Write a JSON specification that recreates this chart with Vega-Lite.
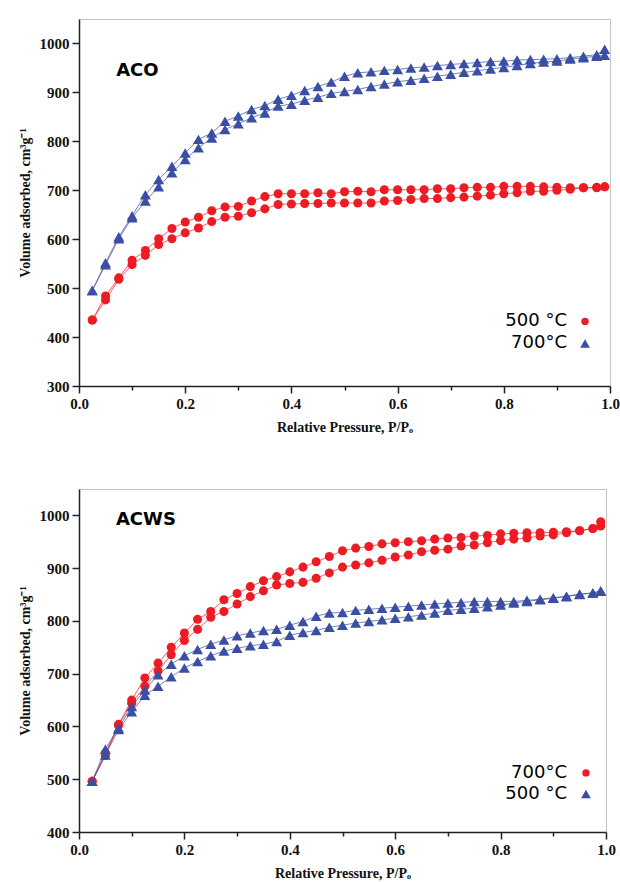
{
  "$schema": "https://vega.github.io/schema/vega-lite/v6.json",
  "background": "white",
  "padding": {"left": 17, "top": 18, "right": 8, "bottom": 4},
  "config": {
    "view": {"stroke": "#c4c4c4", "strokeWidth": 1},
    "axis": {
      "grid": false,
      "labelFont": "Liberation Serif", "labelFontWeight": "bold", "labelFontSize": 15, "labelColor": "#111",
      "titleFont": "Liberation Serif", "titleFontWeight": "bold", "titleFontSize": 14, "titleColor": "#111",
      "domainColor": "#222", "domainWidth": 1.5, "tickColor": "#222", "tickWidth": 1.5,
      "labelOverlap": false, "labelFlush": false, "labelBound": false
    },
    "concat": {"spacing": 53},
    "text": {"font": "DejaVu Sans", "fontSize": 18, "color": "#000"}
  },
  "resolve": {"scale": {"color": "independent", "shape": "independent"}},
  "datasets": {
    "aco": [
      {"temp":"500","branch":"ads","P":0.025,"V":435},{"temp":"500","branch":"ads","P":0.05,"V":476},{"temp":"500","branch":"ads","P":0.075,"V":518},{"temp":"500","branch":"ads","P":0.1,"V":548},{"temp":"500","branch":"ads","P":0.125,"V":567},{"temp":"500","branch":"ads","P":0.15,"V":589},{"temp":"500","branch":"ads","P":0.175,"V":601},{"temp":"500","branch":"ads","P":0.2,"V":613},{"temp":"500","branch":"ads","P":0.225,"V":623},{"temp":"500","branch":"ads","P":0.25,"V":636},{"temp":"500","branch":"ads","P":0.275,"V":645},{"temp":"500","branch":"ads","P":0.3,"V":647},{"temp":"500","branch":"ads","P":0.325,"V":654},{"temp":"500","branch":"ads","P":0.35,"V":662},{"temp":"500","branch":"ads","P":0.375,"V":671},{"temp":"500","branch":"ads","P":0.4,"V":672},{"temp":"500","branch":"ads","P":0.425,"V":673},{"temp":"500","branch":"ads","P":0.45,"V":673},{"temp":"500","branch":"ads","P":0.475,"V":674},{"temp":"500","branch":"ads","P":0.5,"V":674},{"temp":"500","branch":"ads","P":0.525,"V":674},{"temp":"500","branch":"ads","P":0.55,"V":674},{"temp":"500","branch":"ads","P":0.575,"V":678},{"temp":"500","branch":"ads","P":0.6,"V":679},{"temp":"500","branch":"ads","P":0.625,"V":681},{"temp":"500","branch":"ads","P":0.65,"V":683},{"temp":"500","branch":"ads","P":0.675,"V":683},{"temp":"500","branch":"ads","P":0.7,"V":685},{"temp":"500","branch":"ads","P":0.725,"V":686},{"temp":"500","branch":"ads","P":0.75,"V":688},{"temp":"500","branch":"ads","P":0.775,"V":690},{"temp":"500","branch":"ads","P":0.8,"V":693},{"temp":"500","branch":"ads","P":0.825,"V":695},{"temp":"500","branch":"ads","P":0.85,"V":698},{"temp":"500","branch":"ads","P":0.875,"V":698},{"temp":"500","branch":"ads","P":0.9,"V":700},{"temp":"500","branch":"ads","P":0.925,"V":702},{"temp":"500","branch":"ads","P":0.95,"V":705},{"temp":"500","branch":"ads","P":0.975,"V":705},{"temp":"500","branch":"ads","P":0.99,"V":707},
      {"temp":"500","branch":"des","P":0.025,"V":435},{"temp":"500","branch":"des","P":0.05,"V":484},{"temp":"500","branch":"des","P":0.075,"V":521},{"temp":"500","branch":"des","P":0.1,"V":557},{"temp":"500","branch":"des","P":0.125,"V":577},{"temp":"500","branch":"des","P":0.15,"V":601},{"temp":"500","branch":"des","P":0.175,"V":622},{"temp":"500","branch":"des","P":0.2,"V":635},{"temp":"500","branch":"des","P":0.225,"V":645},{"temp":"500","branch":"des","P":0.25,"V":658},{"temp":"500","branch":"des","P":0.275,"V":666},{"temp":"500","branch":"des","P":0.3,"V":667},{"temp":"500","branch":"des","P":0.325,"V":678},{"temp":"500","branch":"des","P":0.35,"V":687},{"temp":"500","branch":"des","P":0.375,"V":693},{"temp":"500","branch":"des","P":0.4,"V":693},{"temp":"500","branch":"des","P":0.425,"V":693},{"temp":"500","branch":"des","P":0.45,"V":695},{"temp":"500","branch":"des","P":0.475,"V":693},{"temp":"500","branch":"des","P":0.5,"V":697},{"temp":"500","branch":"des","P":0.525,"V":698},{"temp":"500","branch":"des","P":0.55,"V":697},{"temp":"500","branch":"des","P":0.575,"V":701},{"temp":"500","branch":"des","P":0.6,"V":701},{"temp":"500","branch":"des","P":0.625,"V":701},{"temp":"500","branch":"des","P":0.65,"V":701},{"temp":"500","branch":"des","P":0.675,"V":703},{"temp":"500","branch":"des","P":0.7,"V":703},{"temp":"500","branch":"des","P":0.725,"V":705},{"temp":"500","branch":"des","P":0.75,"V":706},{"temp":"500","branch":"des","P":0.775,"V":706},{"temp":"500","branch":"des","P":0.8,"V":708},{"temp":"500","branch":"des","P":0.825,"V":708},{"temp":"500","branch":"des","P":0.85,"V":708},{"temp":"500","branch":"des","P":0.875,"V":707},{"temp":"500","branch":"des","P":0.9,"V":706},{"temp":"500","branch":"des","P":0.925,"V":705},{"temp":"500","branch":"des","P":0.95,"V":705},{"temp":"500","branch":"des","P":0.975,"V":706},{"temp":"500","branch":"des","P":0.99,"V":707},
      {"temp":"700","branch":"ads","P":0.025,"V":495},{"temp":"700","branch":"ads","P":0.05,"V":548},{"temp":"700","branch":"ads","P":0.075,"V":601},{"temp":"700","branch":"ads","P":0.1,"V":644},{"temp":"700","branch":"ads","P":0.125,"V":678},{"temp":"700","branch":"ads","P":0.15,"V":707},{"temp":"700","branch":"ads","P":0.175,"V":736},{"temp":"700","branch":"ads","P":0.2,"V":763},{"temp":"700","branch":"ads","P":0.225,"V":787},{"temp":"700","branch":"ads","P":0.25,"V":807},{"temp":"700","branch":"ads","P":0.275,"V":824},{"temp":"700","branch":"ads","P":0.3,"V":836},{"temp":"700","branch":"ads","P":0.325,"V":848},{"temp":"700","branch":"ads","P":0.35,"V":858},{"temp":"700","branch":"ads","P":0.375,"V":872},{"temp":"700","branch":"ads","P":0.4,"V":876},{"temp":"700","branch":"ads","P":0.425,"V":884},{"temp":"700","branch":"ads","P":0.45,"V":890},{"temp":"700","branch":"ads","P":0.475,"V":898},{"temp":"700","branch":"ads","P":0.5,"V":902},{"temp":"700","branch":"ads","P":0.525,"V":906},{"temp":"700","branch":"ads","P":0.55,"V":912},{"temp":"700","branch":"ads","P":0.575,"V":917},{"temp":"700","branch":"ads","P":0.6,"V":922},{"temp":"700","branch":"ads","P":0.625,"V":925},{"temp":"700","branch":"ads","P":0.65,"V":929},{"temp":"700","branch":"ads","P":0.675,"V":933},{"temp":"700","branch":"ads","P":0.7,"V":937},{"temp":"700","branch":"ads","P":0.725,"V":941},{"temp":"700","branch":"ads","P":0.75,"V":944},{"temp":"700","branch":"ads","P":0.775,"V":948},{"temp":"700","branch":"ads","P":0.8,"V":951},{"temp":"700","branch":"ads","P":0.825,"V":955},{"temp":"700","branch":"ads","P":0.85,"V":959},{"temp":"700","branch":"ads","P":0.875,"V":962},{"temp":"700","branch":"ads","P":0.9,"V":964},{"temp":"700","branch":"ads","P":0.925,"V":968},{"temp":"700","branch":"ads","P":0.95,"V":971},{"temp":"700","branch":"ads","P":0.975,"V":974},{"temp":"700","branch":"ads","P":0.99,"V":976},
      {"temp":"700","branch":"des","P":0.025,"V":495},{"temp":"700","branch":"des","P":0.05,"V":552},{"temp":"700","branch":"des","P":0.075,"V":605},{"temp":"700","branch":"des","P":0.1,"V":648},{"temp":"700","branch":"des","P":0.125,"V":691},{"temp":"700","branch":"des","P":0.15,"V":722},{"temp":"700","branch":"des","P":0.175,"V":749},{"temp":"700","branch":"des","P":0.2,"V":776},{"temp":"700","branch":"des","P":0.225,"V":804},{"temp":"700","branch":"des","P":0.25,"V":817},{"temp":"700","branch":"des","P":0.275,"V":841},{"temp":"700","branch":"des","P":0.3,"V":852},{"temp":"700","branch":"des","P":0.325,"V":865},{"temp":"700","branch":"des","P":0.35,"V":873},{"temp":"700","branch":"des","P":0.375,"V":886},{"temp":"700","branch":"des","P":0.4,"V":894},{"temp":"700","branch":"des","P":0.425,"V":904},{"temp":"700","branch":"des","P":0.45,"V":912},{"temp":"700","branch":"des","P":0.475,"V":921},{"temp":"700","branch":"des","P":0.5,"V":933},{"temp":"700","branch":"des","P":0.525,"V":940},{"temp":"700","branch":"des","P":0.55,"V":942},{"temp":"700","branch":"des","P":0.575,"V":945},{"temp":"700","branch":"des","P":0.6,"V":947},{"temp":"700","branch":"des","P":0.625,"V":950},{"temp":"700","branch":"des","P":0.65,"V":952},{"temp":"700","branch":"des","P":0.675,"V":955},{"temp":"700","branch":"des","P":0.7,"V":957},{"temp":"700","branch":"des","P":0.725,"V":959},{"temp":"700","branch":"des","P":0.75,"V":961},{"temp":"700","branch":"des","P":0.775,"V":963},{"temp":"700","branch":"des","P":0.8,"V":964},{"temp":"700","branch":"des","P":0.825,"V":966},{"temp":"700","branch":"des","P":0.85,"V":967},{"temp":"700","branch":"des","P":0.875,"V":968},{"temp":"700","branch":"des","P":0.9,"V":969},{"temp":"700","branch":"des","P":0.925,"V":971},{"temp":"700","branch":"des","P":0.95,"V":974},{"temp":"700","branch":"des","P":0.975,"V":977},{"temp":"700","branch":"des","P":0.99,"V":988}
    ],
    "acws": [
      {"temp":"700","branch":"ads","P":0.025,"V":496},{"temp":"700","branch":"ads","P":0.05,"V":545},{"temp":"700","branch":"ads","P":0.075,"V":602},{"temp":"700","branch":"ads","P":0.1,"V":644},{"temp":"700","branch":"ads","P":0.125,"V":676},{"temp":"700","branch":"ads","P":0.15,"V":705},{"temp":"700","branch":"ads","P":0.175,"V":736},{"temp":"700","branch":"ads","P":0.2,"V":763},{"temp":"700","branch":"ads","P":0.225,"V":784},{"temp":"700","branch":"ads","P":0.25,"V":807},{"temp":"700","branch":"ads","P":0.275,"V":818},{"temp":"700","branch":"ads","P":0.3,"V":832},{"temp":"700","branch":"ads","P":0.325,"V":846},{"temp":"700","branch":"ads","P":0.35,"V":857},{"temp":"700","branch":"ads","P":0.375,"V":868},{"temp":"700","branch":"ads","P":0.4,"V":871},{"temp":"700","branch":"ads","P":0.425,"V":873},{"temp":"700","branch":"ads","P":0.45,"V":881},{"temp":"700","branch":"ads","P":0.475,"V":891},{"temp":"700","branch":"ads","P":0.5,"V":902},{"temp":"700","branch":"ads","P":0.525,"V":906},{"temp":"700","branch":"ads","P":0.55,"V":910},{"temp":"700","branch":"ads","P":0.575,"V":915},{"temp":"700","branch":"ads","P":0.6,"V":921},{"temp":"700","branch":"ads","P":0.625,"V":925},{"temp":"700","branch":"ads","P":0.65,"V":931},{"temp":"700","branch":"ads","P":0.675,"V":934},{"temp":"700","branch":"ads","P":0.7,"V":936},{"temp":"700","branch":"ads","P":0.725,"V":942},{"temp":"700","branch":"ads","P":0.75,"V":944},{"temp":"700","branch":"ads","P":0.775,"V":948},{"temp":"700","branch":"ads","P":0.8,"V":952},{"temp":"700","branch":"ads","P":0.825,"V":955},{"temp":"700","branch":"ads","P":0.85,"V":957},{"temp":"700","branch":"ads","P":0.875,"V":961},{"temp":"700","branch":"ads","P":0.9,"V":963},{"temp":"700","branch":"ads","P":0.925,"V":967},{"temp":"700","branch":"ads","P":0.95,"V":971},{"temp":"700","branch":"ads","P":0.975,"V":975},{"temp":"700","branch":"ads","P":0.99,"V":980},
      {"temp":"700","branch":"des","P":0.025,"V":496},{"temp":"700","branch":"des","P":0.05,"V":549},{"temp":"700","branch":"des","P":0.075,"V":604},{"temp":"700","branch":"des","P":0.1,"V":650},{"temp":"700","branch":"des","P":0.125,"V":692},{"temp":"700","branch":"des","P":0.15,"V":720},{"temp":"700","branch":"des","P":0.175,"V":750},{"temp":"700","branch":"des","P":0.2,"V":777},{"temp":"700","branch":"des","P":0.225,"V":803},{"temp":"700","branch":"des","P":0.25,"V":818},{"temp":"700","branch":"des","P":0.275,"V":840},{"temp":"700","branch":"des","P":0.3,"V":852},{"temp":"700","branch":"des","P":0.325,"V":865},{"temp":"700","branch":"des","P":0.35,"V":876},{"temp":"700","branch":"des","P":0.375,"V":884},{"temp":"700","branch":"des","P":0.4,"V":893},{"temp":"700","branch":"des","P":0.425,"V":902},{"temp":"700","branch":"des","P":0.45,"V":912},{"temp":"700","branch":"des","P":0.475,"V":922},{"temp":"700","branch":"des","P":0.5,"V":933},{"temp":"700","branch":"des","P":0.525,"V":938},{"temp":"700","branch":"des","P":0.55,"V":941},{"temp":"700","branch":"des","P":0.575,"V":946},{"temp":"700","branch":"des","P":0.6,"V":948},{"temp":"700","branch":"des","P":0.625,"V":950},{"temp":"700","branch":"des","P":0.65,"V":952},{"temp":"700","branch":"des","P":0.675,"V":955},{"temp":"700","branch":"des","P":0.7,"V":957},{"temp":"700","branch":"des","P":0.725,"V":958},{"temp":"700","branch":"des","P":0.75,"V":961},{"temp":"700","branch":"des","P":0.775,"V":962},{"temp":"700","branch":"des","P":0.8,"V":965},{"temp":"700","branch":"des","P":0.825,"V":966},{"temp":"700","branch":"des","P":0.85,"V":967},{"temp":"700","branch":"des","P":0.875,"V":967},{"temp":"700","branch":"des","P":0.9,"V":968},{"temp":"700","branch":"des","P":0.925,"V":969},{"temp":"700","branch":"des","P":0.95,"V":971},{"temp":"700","branch":"des","P":0.975,"V":975},{"temp":"700","branch":"des","P":0.99,"V":988},
      {"temp":"500","branch":"ads","P":0.025,"V":496},{"temp":"500","branch":"ads","P":0.05,"V":546},{"temp":"500","branch":"ads","P":0.075,"V":594},{"temp":"500","branch":"ads","P":0.1,"V":628},{"temp":"500","branch":"ads","P":0.125,"V":659},{"temp":"500","branch":"ads","P":0.15,"V":676},{"temp":"500","branch":"ads","P":0.175,"V":694},{"temp":"500","branch":"ads","P":0.2,"V":711},{"temp":"500","branch":"ads","P":0.225,"V":723},{"temp":"500","branch":"ads","P":0.25,"V":734},{"temp":"500","branch":"ads","P":0.275,"V":743},{"temp":"500","branch":"ads","P":0.3,"V":748},{"temp":"500","branch":"ads","P":0.325,"V":753},{"temp":"500","branch":"ads","P":0.35,"V":756},{"temp":"500","branch":"ads","P":0.375,"V":761},{"temp":"500","branch":"ads","P":0.4,"V":773},{"temp":"500","branch":"ads","P":0.425,"V":778},{"temp":"500","branch":"ads","P":0.45,"V":782},{"temp":"500","branch":"ads","P":0.475,"V":788},{"temp":"500","branch":"ads","P":0.5,"V":792},{"temp":"500","branch":"ads","P":0.525,"V":796},{"temp":"500","branch":"ads","P":0.55,"V":799},{"temp":"500","branch":"ads","P":0.575,"V":802},{"temp":"500","branch":"ads","P":0.6,"V":805},{"temp":"500","branch":"ads","P":0.625,"V":808},{"temp":"500","branch":"ads","P":0.65,"V":811},{"temp":"500","branch":"ads","P":0.675,"V":815},{"temp":"500","branch":"ads","P":0.7,"V":820},{"temp":"500","branch":"ads","P":0.725,"V":822},{"temp":"500","branch":"ads","P":0.75,"V":824},{"temp":"500","branch":"ads","P":0.775,"V":827},{"temp":"500","branch":"ads","P":0.8,"V":830},{"temp":"500","branch":"ads","P":0.825,"V":834},{"temp":"500","branch":"ads","P":0.85,"V":837},{"temp":"500","branch":"ads","P":0.875,"V":840},{"temp":"500","branch":"ads","P":0.9,"V":843},{"temp":"500","branch":"ads","P":0.925,"V":846},{"temp":"500","branch":"ads","P":0.95,"V":850},{"temp":"500","branch":"ads","P":0.975,"V":853},{"temp":"500","branch":"ads","P":0.99,"V":856},
      {"temp":"500","branch":"des","P":0.025,"V":496},{"temp":"500","branch":"des","P":0.05,"V":557},{"temp":"500","branch":"des","P":0.075,"V":597},{"temp":"500","branch":"des","P":0.1,"V":638},{"temp":"500","branch":"des","P":0.125,"V":669},{"temp":"500","branch":"des","P":0.15,"V":698},{"temp":"500","branch":"des","P":0.175,"V":718},{"temp":"500","branch":"des","P":0.2,"V":734},{"temp":"500","branch":"des","P":0.225,"V":746},{"temp":"500","branch":"des","P":0.25,"V":756},{"temp":"500","branch":"des","P":0.275,"V":764},{"temp":"500","branch":"des","P":0.3,"V":772},{"temp":"500","branch":"des","P":0.325,"V":777},{"temp":"500","branch":"des","P":0.35,"V":782},{"temp":"500","branch":"des","P":0.375,"V":784},{"temp":"500","branch":"des","P":0.4,"V":792},{"temp":"500","branch":"des","P":0.425,"V":799},{"temp":"500","branch":"des","P":0.45,"V":809},{"temp":"500","branch":"des","P":0.475,"V":815},{"temp":"500","branch":"des","P":0.5,"V":816},{"temp":"500","branch":"des","P":0.525,"V":820},{"temp":"500","branch":"des","P":0.55,"V":822},{"temp":"500","branch":"des","P":0.575,"V":824},{"temp":"500","branch":"des","P":0.6,"V":826},{"temp":"500","branch":"des","P":0.625,"V":828},{"temp":"500","branch":"des","P":0.65,"V":830},{"temp":"500","branch":"des","P":0.675,"V":832},{"temp":"500","branch":"des","P":0.7,"V":834},{"temp":"500","branch":"des","P":0.725,"V":835},{"temp":"500","branch":"des","P":0.75,"V":837},{"temp":"500","branch":"des","P":0.775,"V":837},{"temp":"500","branch":"des","P":0.8,"V":837},{"temp":"500","branch":"des","P":0.825,"V":837},{"temp":"500","branch":"des","P":0.85,"V":839},{"temp":"500","branch":"des","P":0.875,"V":841},{"temp":"500","branch":"des","P":0.9,"V":844},{"temp":"500","branch":"des","P":0.925,"V":847},{"temp":"500","branch":"des","P":0.95,"V":851},{"temp":"500","branch":"des","P":0.975,"V":853},{"temp":"500","branch":"des","P":0.99,"V":857}
    ]
  },
  "vconcat": [
    {
      "width": 531,
      "height": 367,
      "data": {"name": "aco"},
      "layer": [
        {
          "mark": {"type": "line", "strokeWidth": 1, "opacity": 0.7},
          "encoding": {
            "x": {"field": "P", "type": "quantitative",
              "scale": {"domain": [0, 1], "nice": false},
              "axis": {"title": "Relative Pressure, P/Pₒ", "values": [0, 0.1, 0.2, 0.3, 0.4, 0.5, 0.6, 0.7, 0.8, 0.9, 1.0], "format": ".1f",
                "labelExpr": "round(datum.value * 10) % 2 === 0 ? datum.label : ''",
                "tickSize": {"condition": {"test": "round(datum.value * 10) % 2 === 0", "value": 7}, "value": 4},
                "labelPadding": 3, "titlePadding": 9}},
            "y": {"field": "V", "type": "quantitative",
              "scale": {"domain": [300, 1050], "nice": false, "zero": false},
              "axis": {"title": "Volume adsorbed, cm³g⁻¹", "values": [300, 350, 400, 450, 500, 550, 600, 650, 700, 750, 800, 850, 900, 950, 1000, 1050], "format": "d",
                "labelExpr": "datum.value % 100 === 0 ? datum.label : ''",
                "tickSize": {"condition": {"test": "datum.value % 100 === 0", "value": 7}, "value": 4},
                "labelPadding": 3, "titlePadding": 7}},
            "color": {"field": "temp", "type": "nominal", "scale": {"domain": ["500", "700"], "range": ["#ed1c24", "#3a4ea3"]}, "legend": null},
            "detail": {"field": "branch"}
          }
        },
        {
          "transform": [{"filter": "datum.temp === '500'"}],
          "mark": {"type": "point", "filled": true, "opacity": 1, "size": 82, "shape": "circle"},
          "encoding": {
            "x": {"field": "P", "type": "quantitative"},
            "y": {"field": "V", "type": "quantitative"},
            "color": {"field": "temp", "type": "nominal", "legend": null}
          }
        },
        {
          "transform": [{"filter": "datum.temp === '700'"}],
          "mark": {"type": "point", "filled": true, "opacity": 1, "size": 120, "shape": "triangle-up"},
          "encoding": {
            "x": {"field": "P", "type": "quantitative"},
            "y": {"field": "V", "type": "quantitative"},
            "color": {"field": "temp", "type": "nominal", "legend": null}
          }
        },
        {
          "data": {"values": [{}]},
          "mark": {"type": "text", "text": "ACO", "fontWeight": "bold", "align": "left", "baseline": "middle"},
          "encoding": {"x": {"datum": 0.07, "type": "quantitative"}, "y": {"datum": 944, "type": "quantitative"}}
        },
        {
          "data": {"values": [{}]},
          "mark": {"type": "text", "text": "500 °C", "align": "right", "baseline": "middle"},
          "encoding": {"x": {"datum": 0.919, "type": "quantitative"}, "y": {"datum": 432, "type": "quantitative"}}
        },
        {
          "data": {"values": [{}]},
          "mark": {"type": "point", "filled": true, "opacity": 1, "size": 55, "shape": "circle", "color": "#ed1c24"},
          "encoding": {"x": {"datum": 0.953, "type": "quantitative"}, "y": {"datum": 432, "type": "quantitative"}}
        },
        {
          "data": {"values": [{}]},
          "mark": {"type": "text", "text": "700°C", "align": "right", "baseline": "middle"},
          "encoding": {"x": {"datum": 0.919, "type": "quantitative"}, "y": {"datum": 387, "type": "quantitative"}}
        },
        {
          "data": {"values": [{}]},
          "mark": {"type": "point", "filled": true, "opacity": 1, "size": 95, "shape": "triangle-up", "color": "#3a4ea3"},
          "encoding": {"x": {"datum": 0.953, "type": "quantitative"}, "y": {"datum": 387, "type": "quantitative"}}
        }
      ]
    },
    {
      "width": 527,
      "height": 343,
      "data": {"name": "acws"},
      "layer": [
        {
          "mark": {"type": "line", "strokeWidth": 1, "opacity": 0.7},
          "encoding": {
            "x": {"field": "P", "type": "quantitative",
              "scale": {"domain": [0, 1], "nice": false},
              "axis": {"title": "Relative Pressure, P/Pₒ", "values": [0, 0.1, 0.2, 0.3, 0.4, 0.5, 0.6, 0.7, 0.8, 0.9, 1.0], "format": ".1f",
                "labelExpr": "round(datum.value * 10) % 2 === 0 ? datum.label : ''",
                "tickSize": {"condition": {"test": "round(datum.value * 10) % 2 === 0", "value": 7}, "value": 4},
                "labelPadding": 3, "titlePadding": 9}},
            "y": {"field": "V", "type": "quantitative",
              "scale": {"domain": [400, 1050], "nice": false, "zero": false},
              "axis": {"title": "Volume adsorbed, cm³g⁻¹", "values": [400, 450, 500, 550, 600, 650, 700, 750, 800, 850, 900, 950, 1000, 1050], "format": "d",
                "labelExpr": "datum.value % 100 === 0 ? datum.label : ''",
                "tickSize": {"condition": {"test": "datum.value % 100 === 0", "value": 7}, "value": 4},
                "labelPadding": 3, "titlePadding": 7}},
            "color": {"field": "temp", "type": "nominal", "scale": {"domain": ["700", "500"], "range": ["#ed1c24", "#3a4ea3"]}, "legend": null},
            "detail": {"field": "branch"}
          }
        },
        {
          "transform": [{"filter": "datum.temp === '700'"}],
          "mark": {"type": "point", "filled": true, "opacity": 1, "size": 82, "shape": "circle"},
          "encoding": {
            "x": {"field": "P", "type": "quantitative"},
            "y": {"field": "V", "type": "quantitative"},
            "color": {"field": "temp", "type": "nominal", "legend": null}
          }
        },
        {
          "transform": [{"filter": "datum.temp === '500'"}],
          "mark": {"type": "point", "filled": true, "opacity": 1, "size": 120, "shape": "triangle-up"},
          "encoding": {
            "x": {"field": "P", "type": "quantitative"},
            "y": {"field": "V", "type": "quantitative"},
            "color": {"field": "temp", "type": "nominal", "legend": null}
          }
        },
        {
          "data": {"values": [{}]},
          "mark": {"type": "text", "text": "ACWS", "fontWeight": "bold", "align": "left", "baseline": "middle"},
          "encoding": {"x": {"datum": 0.07, "type": "quantitative"}, "y": {"datum": 991, "type": "quantitative"}}
        },
        {
          "data": {"values": [{}]},
          "mark": {"type": "text", "text": "700°C", "align": "right", "baseline": "middle"},
          "encoding": {"x": {"datum": 0.926, "type": "quantitative"}, "y": {"datum": 512, "type": "quantitative"}}
        },
        {
          "data": {"values": [{}]},
          "mark": {"type": "point", "filled": true, "opacity": 1, "size": 55, "shape": "circle", "color": "#ed1c24"},
          "encoding": {"x": {"datum": 0.962, "type": "quantitative"}, "y": {"datum": 512, "type": "quantitative"}}
        },
        {
          "data": {"values": [{}]},
          "mark": {"type": "text", "text": "500 °C", "align": "right", "baseline": "middle"},
          "encoding": {"x": {"datum": 0.926, "type": "quantitative"}, "y": {"datum": 472, "type": "quantitative"}}
        },
        {
          "data": {"values": [{}]},
          "mark": {"type": "point", "filled": true, "opacity": 1, "size": 95, "shape": "triangle-up", "color": "#3a4ea3"},
          "encoding": {"x": {"datum": 0.962, "type": "quantitative"}, "y": {"datum": 472, "type": "quantitative"}}
        }
      ]
    }
  ]
}
